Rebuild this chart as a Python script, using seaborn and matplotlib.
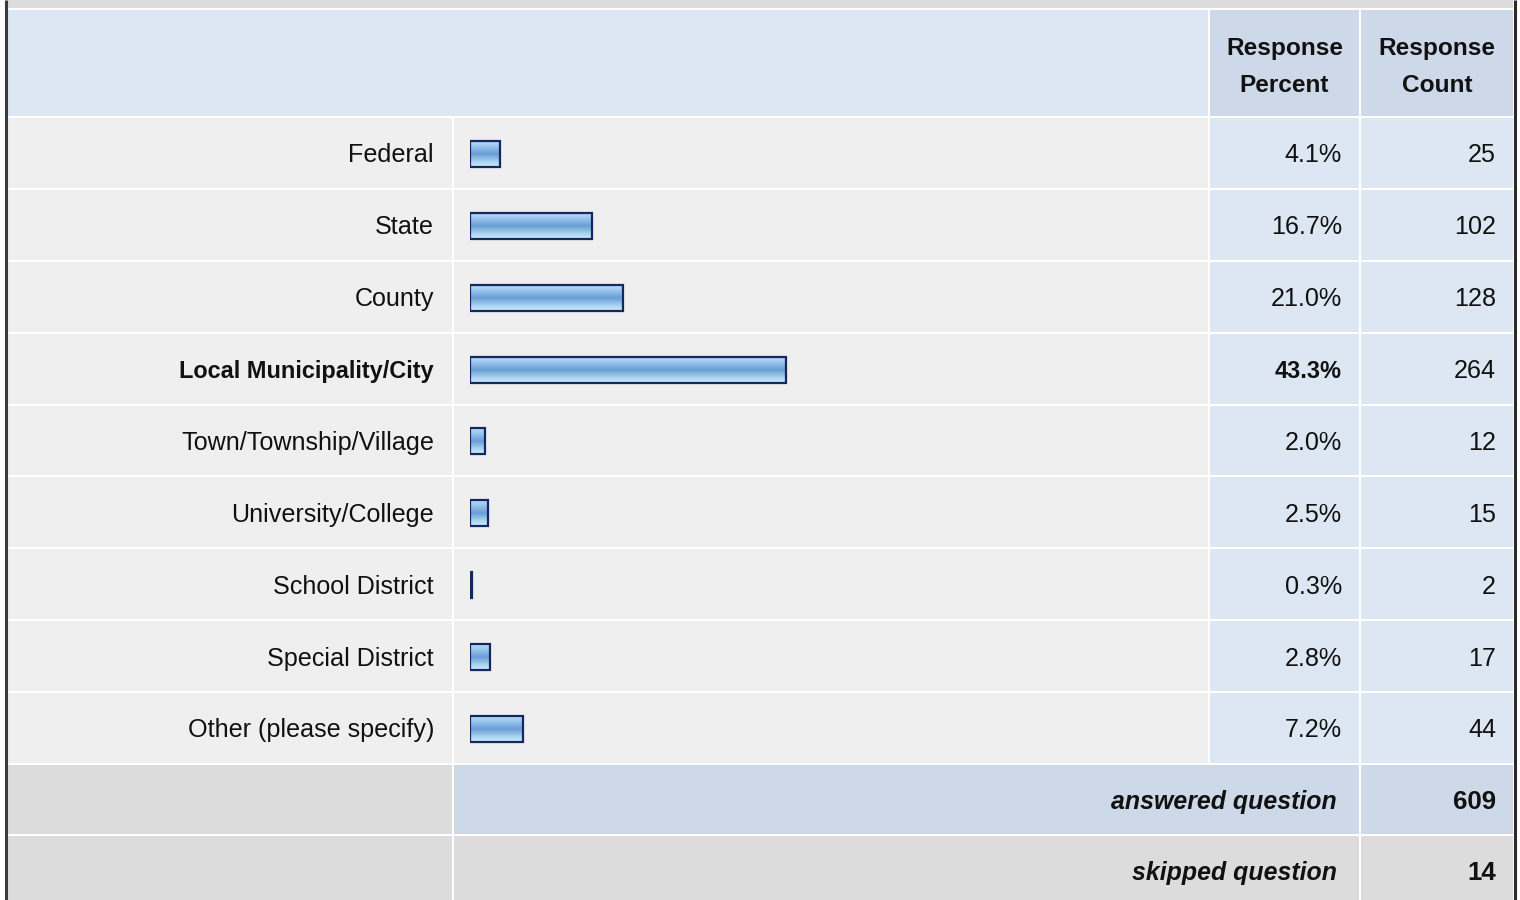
import numpy as np
import pandas as pd
import matplotlib
matplotlib.use("Agg")
import matplotlib.pyplot as plt
import matplotlib.transforms as mtransforms
from matplotlib.patches import Rectangle
from matplotlib.colors import LinearSegmentedColormap
import seaborn as sns

# ---- data ----
categories = ["Federal", "State", "County", "Local Municipality/City",
              "Town/Township/Village", "University/College", "School District",
              "Special District", "Other (please specify)"]
percents = [4.1, 16.7, 21.0, 43.3, 2.0, 2.5, 0.3, 2.8, 7.2]
counts = [25, 102, 128, 264, 12, 15, 2, 17, 44]
bold_rows = ["Local Municipality/City"]
answered = 609
skipped = 14
header_percent = ["Response", "Percent"]
header_count = ["Response", "Count"]

sns.set_theme(style="white")
plt.rcParams["font.family"] = ["Liberation Sans", "DejaVu Sans"]

W, H = 1520, 900
fig = plt.figure(figsize=(W / 100, H / 100), dpi=100)
ax = fig.add_axes([0, 0, 1, 1])
ax.set_xlim(0, W)
ax.set_ylim(H, 0)
ax.axis("off")

# ---- table grid ----
C_HEAD = "#dce7f3"
C_HEAD2 = "#cdd9e8"
C_ROW = "#efefef"
C_GRAY = "#dcdcdc"
TXT = "#111111"

col_x = [8, 454, 1210, 1361, 1513]   # column edges, last = right edge
gap = 2
row_top0 = 118
pitch = 71.875
n = len(categories)


def cell(x0, x1, y0, y1, color):
    ax.add_patch(Rectangle((x0, y0), x1 - x0, y1 - y0, facecolor=color,
                           edgecolor="none", zorder=0))


# top band
cell(8, 1513, 0, 8, C_GRAY)
# header
cell(col_x[0], col_x[2] - gap, 10, 116, C_HEAD)
cell(col_x[2], col_x[3] - gap, 10, 116, C_HEAD2)
cell(col_x[3], col_x[4], 10, 116, C_HEAD2)
# body rows
for i in range(n):
    y0 = row_top0 + i * pitch
    y1 = y0 + pitch - gap
    cell(col_x[0], col_x[1] - gap, y0, y1, C_ROW)
    cell(col_x[1], col_x[2] - gap, y0, y1, C_ROW)
    cell(col_x[2], col_x[3] - gap, y0, y1, C_HEAD)
    cell(col_x[3], col_x[4], y0, y1, C_HEAD)
# footer rows
fy0 = row_top0 + n * pitch
cell(col_x[0], col_x[1] - gap, fy0, 834, C_GRAY)
cell(col_x[1], col_x[3] - gap, fy0, 834, C_HEAD2)
cell(col_x[3], col_x[4], fy0, 834, C_HEAD2)
cell(col_x[0], col_x[1] - gap, 836, H, C_GRAY)
cell(col_x[1], col_x[3] - gap, 836, H, C_GRAY)
cell(col_x[3], col_x[4], 836, H, C_GRAY)

# outer frame
ax.plot([5.5, 5.5], [0, H], color="#3a3a3a", lw=2.2, solid_capstyle="butt", zorder=3)
ax.plot([1515, 1515], [0, H], color="#2a2a2a", lw=2.2, solid_capstyle="butt", zorder=3)

# ---- font sizes ----
FS = 18.1        # regular body text
FS_BOLD = 16.9   # bold body text
FS_HEAD = 17.6   # bold header
FS_FOOT = 17.9   # bold italic footer
FS_FOOTNUM = 18.6

# ---- header text ----
for cx, lines in (((col_x[2] + col_x[3] - gap) / 2, header_percent),
                  ((col_x[3] + col_x[4]) / 2, header_count)):
    for yb, line in zip((55, 92), lines):
        ax.text(cx, yb, line, ha="center", va="baseline", fontsize=FS_HEAD,
                fontweight="bold", color=TXT)

# ---- bar axes: categories on y, percent on x ----
bar_left, bar_right = 470, 1208
px_per_pct = 7.3
top = row_top0
bottom = row_top0 + n * pitch
bx = fig.add_axes([bar_left / W, 1 - bottom / H, (bar_right - bar_left) / W,
                   (bottom - top) / H])
bx.patch.set_alpha(0)
df = pd.DataFrame({"category": categories, "percent": percents})
sns.barplot(data=df, x="percent", y="category", orient="h", ax=bx,
            width=26 / pitch, color="#7aa9dc", saturation=1)
bx.axis("off")

# glossy vertical gradient inside each bar
grad_cmap = LinearSegmentedColormap.from_list(
    "gloss", [(0.0, "#b8dcf6"), (0.2, "#9ac6ee"), (0.5, "#6a9dd5"),
              (0.78, "#a6d2f0"), (1.0, "#d0eef6")])
grad = np.linspace(0, 1, 64).reshape(-1, 1)
for p in bx.patches:
    x0, y0 = p.get_x(), p.get_y()
    w, h = p.get_width(), p.get_height()
    im = bx.imshow(grad, cmap=grad_cmap, aspect="auto", interpolation="bilinear",
                   extent=(x0, x0 + w, y0 + h, y0), zorder=1)
    im.set_clip_path(p)
    p.set_facecolor("none")
    p.set_edgecolor("#14275e")
    p.set_linewidth(1.6)
    p.set_zorder(2)
bx.set_xlim(0, (bar_right - bar_left) / px_per_pct)
bx.set_ylim(n - 0.5, -0.5)

# ---- row text (baseline sits a little below the row centre) ----
row_tf = mtransforms.offset_copy(
    mtransforms.blended_transform_factory(ax.transData, bx.transData),
    fig=fig, x=0, y=-8.5, units="dots")
for i, (cat, pct, cnt) in enumerate(zip(categories, percents, counts)):
    is_bold = cat in bold_rows
    wt = "bold" if is_bold else "normal"
    fs = FS_BOLD if is_bold else FS
    ax.text(434, i, cat, ha="right", va="baseline", fontsize=fs, fontweight=wt,
            color=TXT, transform=row_tf)
    ax.text(1342, i, f"{pct:.1f}%", ha="right", va="baseline", fontsize=fs,
            fontweight=wt, color=TXT, transform=row_tf)
    ax.text(1496, i, f"{cnt}", ha="right", va="baseline", fontsize=FS,
            color=TXT, transform=row_tf)

# ---- footer text ----
for yb, lab, val in ((809, "answered question", answered),
                     (880, "skipped question", skipped)):
    ax.text(1337, yb, lab, ha="right", va="baseline", fontsize=FS_FOOT,
            fontweight="bold", fontstyle="italic", color=TXT)
    ax.text(1496, yb, f"{val}", ha="right", va="baseline", fontsize=FS_FOOTNUM,
            fontweight="bold", color=TXT)

fig.savefig("out.png", dpi=100)
